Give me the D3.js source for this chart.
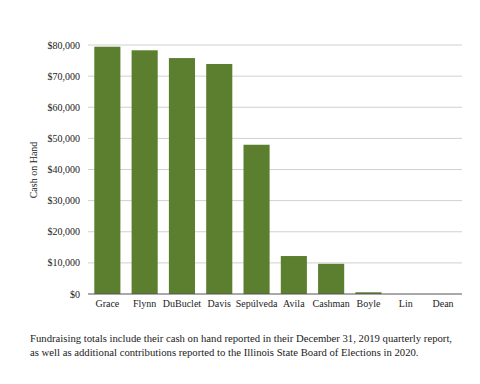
<!DOCTYPE html>
<html>
<head>
<meta charset="utf-8">
<script src="https://d3js.org/d3.v7.min.js"></script>
<style>
  body { margin: 0; background: #fff; }
  text { font-family: "Liberation Serif", "DejaVu Serif", serif; fill: #222; }
</style>
</head>
<body>
<svg id="chart" width="480" height="384"></svg>
<script>
var names = ["Grace", "Flynn", "DuBuclet", "Davis", "Sepúlveda", "Avila", "Cashman", "Boyle", "Lin", "Dean"]
var cash = [79450, 78300, 75800, 73900, 47950, 12200, 9700, 550, 0, 0]
var yTicks = [0, 10000, 20000, 30000, 40000, 50000, 60000, 70000, 80000]

var svg = d3.select("#chart")

var x = d3.scaleBand()
    .domain(names)
    .range([88.7, 461.7])
    .paddingInner(0.3)
    .paddingOuter(0.15)

var y = d3.scaleLinear()
    .domain([0, 80000])
    .range([294, 45])

// gridlines
svg.append("g")
    .selectAll("line")
    .data(yTicks.filter(d => d > 0))
    .enter()
    .append("line")
    .attr("x1", 88)
    .attr("x2", 462)
    .attr("y1", d => y(d))
    .attr("y2", d => y(d))
    .attr("stroke", "#d0d0d0")
    .attr("stroke-width", 1)

// bars
svg.append("g")
    .selectAll("rect")
    .data(names)
    .enter()
    .append("rect")
    .attr("x", d => x(d))
    .attr("width", x.bandwidth())
    .attr("y", (d, i) => y(cash[i]))
    .attr("height", (d, i) => y(0) - y(cash[i]))
    .attr("fill", "#5b7f2e")

// baseline
svg.append("line")
    .attr("x1", 88)
    .attr("x2", 462)
    .attr("y1", y(0))
    .attr("y2", y(0))
    .attr("stroke", "#555")
    .attr("stroke-width", 1.2)

// y axis labels
var fmt = d3.format("$,")
svg.append("g")
    .selectAll("text")
    .data(yTicks)
    .enter()
    .append("text")
    .attr("x", 80)
    .attr("y", d => y(d))
    .attr("dy", "0.35em")
    .attr("text-anchor", "end")
    .style("font-size", "10px")
    .text(d => fmt(d))

// x labels
svg.append("g")
    .selectAll("text")
    .data(names)
    .enter()
    .append("text")
    .attr("x", d => x(d) + x.bandwidth() / 2)
    .attr("y", 307)
    .attr("text-anchor", "middle")
    .style("font-size", "10px")
    .text(d => d)

// y title
svg.append("text")
    .attr("transform", "translate(37,170) rotate(-90)")
    .attr("text-anchor", "middle")
    .style("font-size", "10px")
    .text("Cash on Hand")

// caption
var caption = [
    "Fundraising totals include their cash on hand reported in their December 31, 2019 quarterly report,",
    "as well as additional contributions reported to the Illinois State Board of Elections in 2020."
]
svg.append("g")
    .selectAll("text")
    .data(caption)
    .enter()
    .append("text")
    .attr("x", 30)
    .attr("y", (d, i) => 342 + i * 14)
    .style("font-size", "10.7px")
    .text(d => d)
</script>
</body>
</html>
